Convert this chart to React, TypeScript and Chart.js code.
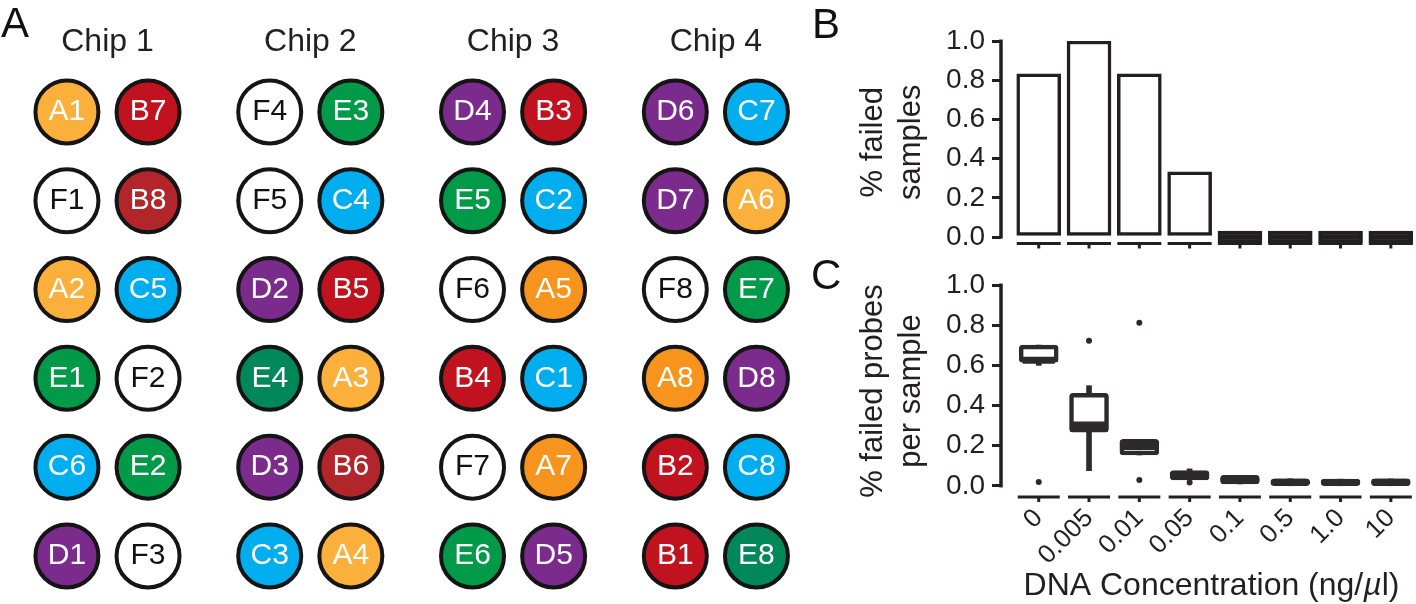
import React, { useEffect, useRef } from "react";
import { Chart, registerables } from "chart.js";

Chart.register(...registerables);

const FONT = "'Liberation Sans', Arial, Helvetica, sans-serif";
const INK = "#231f20";
const BOX_INK = "#2e2a2b";

// ---------- Panel A data ----------
const chipTitles = ["Chip 1", "Chip 2", "Chip 3", "Chip 4"];
// wells listed row by row, two per row (left, right)
const chip1Wells = ["A1", "B7", "F1", "B8", "A2", "C5", "E1", "F2", "C6", "E2", "D1", "F3"];
const chip2Wells = ["F4", "E3", "F5", "C4", "D2", "B5", "E4", "A3", "D3", "B6", "C3", "A4"];
const chip3Wells = ["D4", "B3", "E5", "C2", "F6", "A5", "B4", "C1", "F7", "A7", "E6", "D5"];
const chip4Wells = ["D6", "C7", "D7", "A6", "F8", "E7", "A8", "D8", "B2", "C8", "B1", "E8"];
const chipWells = [chip1Wells, chip2Wells, chip3Wells, chip4Wells];

const wellFill: Record<string, string> = {
  A: "#fbb03b",
  B: "#c1121f",
  C: "#00aeef",
  D: "#7b2b8c",
  E: "#009a48",
  F: "#ffffff",
};
const wellFillVariant: Record<string, string> = {
  A5: "#f7941d",
  A7: "#f7941d",
  A8: "#f7941d",
  B6: "#b2262b",
  B8: "#b2262b",
  E4: "#00875a",
  E8: "#00875a",
};

// ---------- Panel B / C data ----------
const concentrations = ["0", "0.005", "0.01", "0.05", "0.1", "0.5", "1.0", "10"];
const yTicks = [0, 0.2, 0.4, 0.6, 0.8, 1.0];
const failedSamples = [0.833, 1.0, 0.833, 0.333, 0, 0, 0, 0];

const boxQ1 = [0.615, 0.267, 0.154, 0.03, 0.01, 0.001, 0.001, 0.001];
const boxQ3 = [0.701, 0.461, 0.232, 0.076, 0.053, 0.036, 0.034, 0.035];
const boxMedian = [0.625, 0.303, 0.196, 0.05, 0.03, 0.018, 0.017, 0.018];
const whiskerLow = [0.6, 0.076, 0.154, 0.03, 0.01, 0.001, 0.001, 0.001];
const whiskerHigh = [0.701, 0.499, 0.232, 0.085, 0.053, 0.036, 0.034, 0.035];
const outlierCat = [0, 1, 2, 2, 3];
const outlierVal = [0.02, 0.723, 0.812, 0.03, 0.017];

const titleB = ["% failed", "samples"];
const titleC = ["% failed probes", "per sample"];
const xTitleParts = ["DNA Concentration (ng/", "µ", "l)"];

Chart.defaults.font.family = FONT;
Chart.defaults.color = INK;

// ---------- plugins ----------
const panelLetterPlugin = {
  id: "panelLetter",
  afterDraw(chart: any, _a: any, opts: any) {
    const ctx = chart.ctx;
    ctx.save();
    ctx.font = `42px ${FONT}`;
    ctx.fillStyle = "#111";
    ctx.textAlign = "left";
    ctx.textBaseline = "alphabetic";
    ctx.fillText(opts.text, opts.x, opts.y);
    ctx.restore();
  },
};

const wellLabelPlugin = {
  id: "wellLabels",
  afterDatasetsDraw(chart: any) {
    const ctx = chart.ctx;
    const meta = chart.getDatasetMeta(0);
    const ds = chart.data.datasets[0];
    ctx.save();
    ctx.font = `30px ${FONT}`;
    ctx.textAlign = "center";
    ctx.textBaseline = "middle";
    meta.data.forEach((el: any, i: number) => {
      const w = ds.data[i].label as string;
      ctx.fillStyle = w[0] === "F" ? "#111" : "#ffffff";
      ctx.fillText(w, el.x, el.y);
    });
    ctx.font = `32px ${FONT}`;
    ctx.fillStyle = INK;
    ctx.textBaseline = "alphabetic";
    const xs = chart.scales.x;
    const ys = chart.scales.y;
    chipTitles.forEach((t, c) => {
      ctx.fillText(t, xs.getPixelForValue(c), ys.getPixelForValue(-0.687));
    });
    ctx.restore();
  },
};

const segmentAxisPlugin = {
  id: "segmentAxis",
  afterDraw(chart: any, _a: any, opts: any) {
    const { ctx, chartArea, scales } = chart;
    const xs = scales.x;
    const ys = scales.y;
    ctx.save();
    ctx.strokeStyle = INK;
    ctx.lineCap = "butt";
    ctx.lineWidth = 3.5;
    ctx.beginPath();
    ctx.moveTo(chartArea.left, ys.getPixelForValue(1) - 1.5);
    ctx.lineTo(chartArea.left, ys.getPixelForValue(0) + 1.5);
    ctx.stroke();
    ctx.lineWidth = 3;
    concentrations.forEach((_c, i) => {
      const px = xs.getPixelForValue(i);
      const yy = chartArea.bottom;
      ctx.beginPath();
      ctx.moveTo(px - opts.half, yy);
      ctx.lineTo(px + opts.half, yy);
      ctx.stroke();
      ctx.beginPath();
      ctx.moveTo(px, yy);
      ctx.lineTo(px, yy + opts.tick);
      ctx.stroke();
    });
    ctx.restore();
  },
};

const medianPlugin = {
  id: "medians",
  afterDatasetsDraw(chart: any) {
    const { ctx, scales } = chart;
    ctx.save();
    ctx.strokeStyle = BOX_INK;
    ctx.lineWidth = 7;
    boxMedian.forEach((m, i) => {
      const px = scales.x.getPixelForValue(i);
      const py = scales.y.getPixelForValue(m);
      ctx.beginPath();
      ctx.moveTo(px - 16, py);
      ctx.lineTo(px + 16, py);
      ctx.stroke();
    });
    ctx.restore();
  },
};

const xTitlePlugin = {
  id: "xTitle",
  afterDraw(chart: any, _a: any, opts: any) {
    const { ctx, chartArea } = chart;
    ctx.save();
    ctx.fillStyle = INK;
    ctx.textBaseline = "alphabetic";
    ctx.textAlign = "left";
    const fonts = [`32px ${FONT}`, `italic 32px ${FONT}`, `32px ${FONT}`];
    let total = 0;
    const widths = xTitleParts.map((p, i) => {
      ctx.font = fonts[i];
      const w = ctx.measureText(p).width;
      total += w;
      return w;
    });
    let x = (chartArea.left + chartArea.right) / 2 + 3 - total / 2;
    xTitleParts.forEach((p, i) => {
      ctx.font = fonts[i];
      ctx.fillText(p, x, opts.y);
      x += widths[i];
    });
    ctx.restore();
  },
};

// ---------- shared axis builders ----------
function yAxis(min: number, title: string[]) {
  return {
    type: "linear" as const,
    min,
    max: 1,
    afterBuildTicks(s: any) {
      s.ticks = yTicks.map((v) => ({ value: v }));
    },
    afterFit(s: any) {
      s.width = 201;
      s.paddingTop = 0;
      s.paddingBottom = 0;
    },
    border: { display: false },
    grid: {
      display: true,
      drawOnChartArea: false,
      drawTicks: true,
      tickLength: 9,
      lineWidth: 3,
      color: INK,
    },
    ticks: {
      autoSkip: false,
      padding: 7,
      color: INK,
      font: { size: 28 },
      callback: (v: any) => Number(v).toFixed(1),
    },
    title: {
      display: true,
      text: title,
      color: INK,
      font: { size: 31, lineHeight: 1.22 },
      padding: { top: 55, bottom: 0 },
    },
  };
}

function xAxis(height: number, showLabels: boolean) {
  return {
    type: "linear" as const,
    min: -0.75,
    max: 7.5,
    offset: false,
    afterBuildTicks(s: any) {
      s.ticks = concentrations.map((_c, i) => ({ value: i }));
    },
    afterFit(s: any) {
      s.height = height;
      s.paddingLeft = 0;
      s.paddingRight = 0;
    },
    border: { display: false },
    grid: { display: false, drawTicks: false },
    ticks: {
      display: showLabels,
      autoSkip: false,
      maxRotation: 45,
      minRotation: 45,
      padding: 6,
      color: INK,
      font: { size: 26 },
      callback: (v: any) => concentrations[Number(v)] ?? "",
    },
  };
}

function makePanelA(): any {
  const points: any[] = [];
  const fills: string[] = [];
  chipWells.forEach((wells, c) => {
    wells.forEach((w, k) => {
      const row = Math.floor(k / 2);
      const col = k % 2;
      points.push({ x: c + (col === 0 ? -0.2 : 0.2), y: row, label: w });
      fills.push(wellFillVariant[w] ?? wellFill[w[0]]);
    });
  });
  return {
    type: "scatter",
    data: {
      datasets: [
        {
          data: points,
          pointRadius: 31.5,
          pointBorderWidth: 4,
          pointBackgroundColor: fills,
          pointBorderColor: "#151515",
          clip: false,
        },
      ],
    },
    options: {
      animation: false,
      responsive: false,
      events: [],
      layout: { padding: 0, autoPadding: false },
      plugins: {
        legend: { display: false },
        tooltip: { enabled: false },
        panelLetter: { text: "A", x: 1, y: 37 },
      },
      scales: {
        x: { type: "linear", display: false, min: -0.53, max: 3.4148 },
        y: { type: "linear", display: false, reverse: true, min: -1.261, max: 5.541 },
      },
    },
    plugins: [wellLabelPlugin, panelLetterPlugin],
  };
}

function makePanelB(): any {
  return {
    type: "bar",
    data: {
      datasets: [
        {
          data: failedSamples.map((v, i) => ({ x: i, y: v })),
          backgroundColor: failedSamples.map((v) => (v === 0 ? INK : "#ffffff")),
          borderColor: INK,
          borderWidth: 3.5,
          borderSkipped: false,
          barThickness: 44,
          minBarLength: 12,
        },
      ],
    },
    options: {
      animation: false,
      responsive: false,
      events: [],
      layout: { padding: { top: 41, left: 0, right: 0, bottom: 0 }, autoPadding: false },
      plugins: {
        legend: { display: false },
        tooltip: { enabled: false },
        segmentAxis: { half: 22, tick: 5 },
        panelLetter: { text: "B", x: 12, y: 38 },
      },
      scales: {
        x: xAxis(6.5, false),
        y: yAxis(-0.033, titleB),
      },
    },
    plugins: [segmentAxisPlugin, panelLetterPlugin],
  };
}

function makePanelC(): any {
  return {
    type: "bar",
    data: {
      datasets: [
        {
          data: concentrations.map((_c, i) => ({ x: i, y: [whiskerLow[i], whiskerHigh[i]] })),
          backgroundColor: BOX_INK,
          borderWidth: 0,
          barThickness: 5,
          grouped: false,
          order: 3,
        },
        {
          data: concentrations.map((_c, i) => ({ x: i, y: [boxQ1[i], boxQ3[i]] })),
          backgroundColor: "#ffffff",
          borderColor: BOX_INK,
          borderWidth: 4.5,
          borderSkipped: false,
          borderRadius: 3.5,
          barThickness: 39,
          grouped: false,
          order: 2,
        },
        {
          type: "scatter",
          data: outlierVal.map((v, k) => ({ x: outlierCat[k], y: v })),
          pointRadius: 3,
          pointBackgroundColor: BOX_INK,
          pointBorderWidth: 0,
          order: 1,
        },
      ],
    },
    options: {
      animation: false,
      responsive: false,
      events: [],
      layout: { padding: { top: 35, left: 0, right: 0, bottom: 0 }, autoPadding: false },
      plugins: {
        legend: { display: false },
        tooltip: { enabled: false },
        segmentAxis: { half: 21, tick: 5 },
        panelLetter: { text: "C", x: 11, y: 39 },
        xTitle: { y: 345 },
      },
      scales: {
        x: xAxis(107, true),
        y: yAxis(-0.055, titleC),
      },
    },
    plugins: [segmentAxisPlugin, medianPlugin, xTitlePlugin, panelLetterPlugin],
  };
}

export default function App() {
  const aRef = useRef<HTMLCanvasElement>(null);
  const bRef = useRef<HTMLCanvasElement>(null);
  const cRef = useRef<HTMLCanvasElement>(null);

  useEffect(() => {
    const charts = [
      new Chart(aRef.current as HTMLCanvasElement, makePanelA()),
      new Chart(bRef.current as HTMLCanvasElement, makePanelB()),
      new Chart(cRef.current as HTMLCanvasElement, makePanelC()),
    ];
    return () => charts.forEach((c) => c.destroy());
  }, []);

  return (
    <div
      style={{
        position: "fixed",
        left: 0,
        top: 0,
        width: 1416,
        height: 604,
        background: "#ffffff",
        overflow: "hidden",
      }}
    >
      <canvas ref={aRef} width={800} height={604} style={{ position: "absolute", left: 0, top: 0 }} />
      <canvas ref={bRef} width={616} height={250} style={{ position: "absolute", left: 800, top: 0 }} />
      <canvas ref={cRef} width={616} height={354} style={{ position: "absolute", left: 800, top: 250 }} />
    </div>
  );
}
